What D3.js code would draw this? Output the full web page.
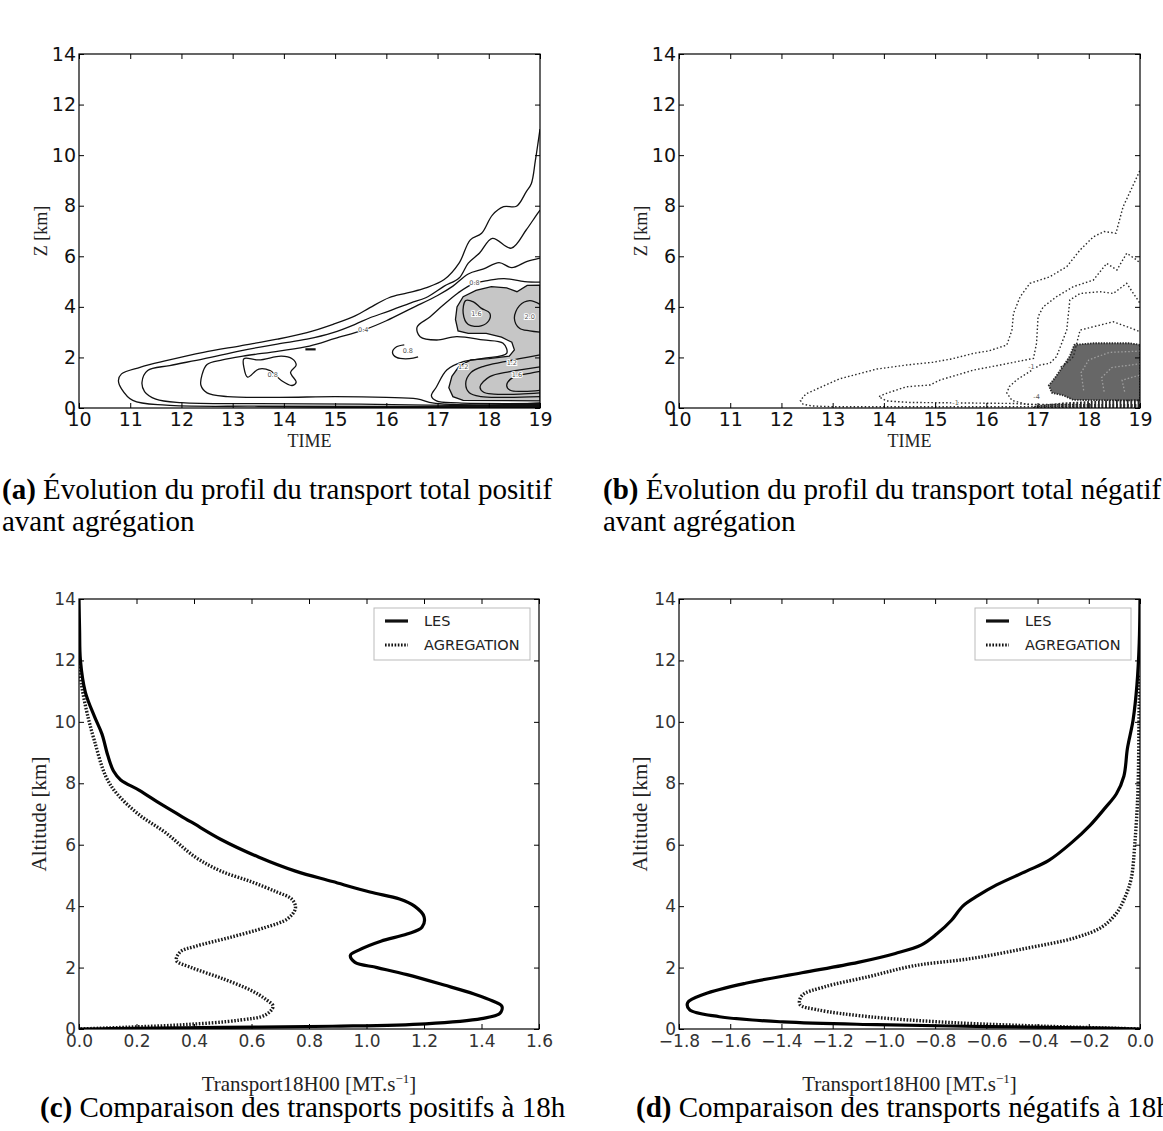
<!DOCTYPE html>
<html><head><meta charset="utf-8">
<script src="https://cdn.jsdelivr.net/npm/d3@7/dist/d3.min.js"></script>
<style>
html,body{margin:0;padding:0;background:#fff;}
svg{display:block;}
</style></head><body>
<svg id="fig" width="1163" height="1131" xmlns="http://www.w3.org/2000/svg"></svg>
<script>
// ======================= DATA =======================
const hourTicks = [10,11,12,13,14,15,16,17,18,19];
const kmTicks   = [0,2,4,6,8,10,12,14];
const posTicks  = [0,0.2,0.4,0.6,0.8,1.0,1.2,1.4,1.6];
const negTicks  = [-1.8,-1.6,-1.4,-1.2,-1.0,-0.8,-0.6,-0.4,-0.2,0.0];
const seriesNames = ["LES","AGREGATION"];

const captionA = ["(a)", " Évolution du profil du transport total positif", "avant agrégation"];
const captionB = ["(b)", " Évolution du profil du transport total négatif", "avant agrégation"];
const captionC = ["(c)", " Comparaison des transports positifs à 18h"];
const captionD = ["(d)", " Comparaison des transports négatifs à 18h"];

// ---- (a) positive transport contours: [time (h), Z (km)] ----
const posContour1 = [[19,0.05],[16,0.06],[13.5,0.07],[11.7,0.11],[11.05,0.3],[10.83,0.76],[10.77,1.09],[10.83,1.35],[11.19,1.61],[11.7,1.87],[12.43,2.2],[13.15,2.46],[13.87,2.72],[14.45,2.98],[14.96,3.31],[15.39,3.64],[15.68,3.97],[16.05,4.36],[16.41,4.55],[16.77,4.75],[17.13,5.08],[17.42,5.73],[17.64,6.65],[17.86,6.91],[18.07,7.63],[18.29,7.96],[18.54,7.98],[18.73,8.55],[18.83,8.87],[18.91,9.79],[19,11.03]];
const posContour2 = [[19,0.09],[16.8,0.11],[15.5,0.15],[13.5,0.17],[12.0,0.21],[11.5,0.35],[11.28,0.65],[11.23,1.02],[11.34,1.48],[11.77,1.68],[12.43,1.94],[13.15,2.26],[13.87,2.53],[14.45,2.72],[14.96,2.98],[15.39,3.31],[15.68,3.57],[16.05,3.83],[16.48,4.16],[16.77,4.36],[17.13,4.82],[17.42,5.14],[17.6,5.73],[17.82,6.13],[18.07,6.71],[18.44,6.32],[18.73,7.04],[18.91,7.57],[19,7.83]];
const posContour3 = [[19,0.12],[17.3,0.14],[16.9,0.2],[16.6,0.36],[16.0,0.42],[15.0,0.45],[13.9,0.42],[12.9,0.45],[12.5,0.6],[12.38,0.9],[12.4,1.3],[12.5,1.72],[12.8,1.9],[13.2,2.05],[13.9,2.25],[14.5,2.45],[15.0,2.75],[15.58,3.1],[16.0,3.45],[16.5,3.95],[17.0,4.45],[17.3,4.82],[17.6,5.3],[17.9,5.5],[18.2,5.75],[18.45,5.55],[18.75,5.8],[19,5.93]];
const posContour4 = [[19,0.18],[17.4,0.2],[16.98,0.28],[16.88,0.48],[16.98,0.84],[17.18,1.5],[17.5,1.83],[17.89,1.96],[18.35,2.16],[18.28,2.56],[17.89,2.69],[17.37,2.82],[16.98,2.69],[16.66,2.82],[16.6,3.2],[16.85,3.6],[17.1,4.05],[17.4,4.55],[17.7,4.92],[18.0,5.05],[18.3,5.12],[18.7,5.0],[19,4.98]];
const posFilled   = [[19,4.86],[18.75,4.85],[18.55,4.6],[18.35,4.75],[18.05,4.8],[17.75,4.65],[17.5,4.4],[17.38,4.0],[17.35,3.5],[17.4,3.05],[17.6,2.95],[17.95,2.95],[18.25,2.8],[18.45,2.6],[18.5,2.3],[18.4,2.05],[18.0,1.95],[17.65,1.9],[17.42,1.65],[17.28,1.25],[17.22,0.8],[17.3,0.45],[17.5,0.3],[19,0.28]];
const posIsland   = [[13.22,1.95],[13.51,1.9],[13.95,2.05],[14.16,1.95],[14.24,1.7],[14.13,1.41],[14.24,1.02],[14.16,0.89],[13.95,1.09],[13.73,1.48],[13.51,1.54],[13.29,1.22],[13.22,1.6]];
const posHook     = [[16.35,2.5],[16.2,2.42],[16.12,2.2],[16.2,2.0],[16.45,1.95],[16.62,2.02]];
const posDash     = [[14.42,2.32],[14.62,2.32]];
const posLoopA    = [[17.55,4.25],[17.5,3.75],[17.6,3.3],[17.85,3.25],[18.0,3.45],[18.02,3.75],[17.85,3.95],[17.7,4.2]];
const posLoopB    = [[19,4.1],[18.8,4.25],[18.6,4.05],[18.5,3.55],[18.6,3.15],[18.8,3.05],[19,3.0]];
const posArc1     = [[19,2.1],[18.6,1.95],[18.28,1.82],[17.9,1.65],[17.65,1.4],[17.55,0.97],[17.62,0.6],[17.85,0.45],[18.3,0.42],[19,0.45]];
const posArc2     = [[19,1.63],[18.41,1.44],[18.02,1.24],[17.83,0.84],[17.9,0.62],[18.1,0.55],[18.6,0.55],[19,0.6]];
const posArc3     = [[19,1.45],[18.8,1.37],[18.48,1.22],[18.35,0.9],[18.42,0.7],[18.7,0.66],[19,0.7]];
const posSurface  = [[12.5,0],[14.5,0.03],[16.0,0.05],[16.8,0.07],[17.5,0.1],[18.5,0.17],[19,0.23],[19,0]];
const posLabels   = [["0.4",15.55,3.08],["0.8",17.72,4.93],["0.8",16.42,2.24],["0.8",13.78,1.32],["1.6",17.76,3.72],["1.2",17.5,1.62],["1.2",18.45,1.78],["1.6",18.55,1.3],["2.0",18.8,3.6]];

// ---- (b) negative transport contours ----
const negContour1 = [[19,0.05],[13,0.05],[12.6,0.08],[12.42,0.15],[12.37,0.3],[12.48,0.56],[13.13,1.15],[13.86,1.54],[14.44,1.7],[14.96,1.81],[15.32,1.94],[15.75,2.16],[16.05,2.26],[16.4,2.49],[16.5,3.08],[16.53,3.74],[16.66,4.4],[16.85,4.93],[17.24,5.19],[17.57,5.59],[17.83,6.25],[18.09,6.77],[18.3,6.98],[18.53,6.91],[18.67,7.96],[18.82,8.61],[19,9.4]];
const negContour2 = [[19,0.1],[17.1,0.12],[16.5,0.18],[15.5,0.2],[14.5,0.22],[14.05,0.28],[13.9,0.45],[14.05,0.58],[14.44,0.84],[14.9,0.91],[15.1,1.11],[15.42,1.3],[15.75,1.5],[16.27,1.7],[16.59,1.83],[16.92,1.96],[16.98,2.56],[17.01,3.61],[17.11,4.0],[17.37,4.4],[17.7,4.8],[18.09,5.06],[18.35,5.72],[18.55,5.46],[18.74,6.12],[18.94,5.85],[19,5.72]];
const negContour3 = [[19,0.13],[16.8,0.14],[16.5,0.3],[16.4,0.6],[16.45,0.85],[16.59,1.11],[16.79,1.37],[17.05,1.7],[17.24,1.77],[17.37,2.03],[17.57,3.08],[17.63,4.27],[17.83,4.53],[18.22,4.6],[18.48,4.53],[18.74,4.93],[19,4.14]];
const negContour4 = [[17.45,1.62],[17.57,1.77],[17.7,2.03],[17.83,3.08],[18.22,3.28],[18.48,3.41],[18.74,3.22],[19,3.02]];
const negFilled   = [[19,2.5],[18.8,2.56],[18.09,2.56],[17.72,2.5],[17.63,2.05],[17.5,1.65],[17.31,1.11],[17.22,0.89],[17.28,0.6],[17.5,0.5],[17.7,0.32],[19,0.3]];
const negInner1   = [[17.9,0.7],[17.85,1.4],[18.0,1.9],[18.4,2.2],[19,2.25]];
const negInner2   = [[18.3,0.65],[18.25,1.2],[18.45,1.6],[19,1.75]];
const negInner3   = [[18.7,0.65],[18.65,1.1],[19,1.3]];
const negSurface  = [[16.9,0],[16.95,0.1],[17.5,0.22],[18.2,0.3],[19,0.35],[19,0]];
const negLabels   = [["-1",16.88,1.62],["-4",16.98,0.45],["-1",15.4,0.2]];

// ---- (c) profiles at 18h00, positive: [transport, altitude] ----
const posLES = [[0,14],[0.002,13],[0.005,12],[0.022,10.97],[0.054,10.17],[0.08,9.6],[0.1,8.91],[0.12,8.4],[0.145,8.11],[0.21,7.77],[0.287,7.31],[0.39,6.74],[0.494,6.17],[0.624,5.6],[0.753,5.14],[0.882,4.8],[1.012,4.46],[1.115,4.23],[1.167,4.0],[1.2,3.66],[1.193,3.31],[1.141,3.09],[1.05,2.86],[0.973,2.57],[0.944,2.4],[0.96,2.17],[1.037,2.0],[1.141,1.77],[1.27,1.43],[1.374,1.14],[1.439,0.91],[1.471,0.74],[1.464,0.51],[1.4,0.34],[1.206,0.17],[0.882,0.09],[0.494,0.05],[0.106,0.01],[0,0]];
const posAGG = [[0,12],[0.009,11.2],[0.028,10.29],[0.054,9.37],[0.093,8.23],[0.132,7.66],[0.21,6.97],[0.3,6.4],[0.404,5.6],[0.494,5.14],[0.598,4.8],[0.688,4.46],[0.74,4.23],[0.753,3.94],[0.727,3.6],[0.649,3.31],[0.52,2.97],[0.404,2.69],[0.352,2.51],[0.339,2.23],[0.391,2.0],[0.494,1.66],[0.598,1.26],[0.649,0.97],[0.675,0.74],[0.649,0.46],[0.559,0.29],[0.365,0.14],[0.171,0.06],[0,0]];

// ---- (d) profiles at 18h00, negative ----
const negLES = [[0,14],[-0.003,12.57],[-0.012,11.2],[-0.027,10.06],[-0.049,9.14],[-0.063,8.23],[-0.092,7.66],[-0.136,7.2],[-0.195,6.63],[-0.268,6.06],[-0.356,5.49],[-0.443,5.14],[-0.56,4.69],[-0.633,4.34],[-0.692,4.0],[-0.736,3.54],[-0.794,3.09],[-0.853,2.74],[-0.955,2.46],[-1.101,2.17],[-1.32,1.83],[-1.54,1.49],[-1.7,1.14],[-1.766,0.86],[-1.759,0.63],[-1.642,0.4],[-1.394,0.23],[-1.028,0.14],[-0.589,0.08],[-0.151,0.03],[0,0]];
const negAGG = [[0,11.5],[-0.003,10.63],[-0.008,7.77],[-0.02,6.06],[-0.034,4.91],[-0.056,4.34],[-0.092,3.77],[-0.151,3.31],[-0.253,2.97],[-0.443,2.63],[-0.663,2.29],[-0.882,2.06],[-1.057,1.71],[-1.233,1.37],[-1.32,1.09],[-1.328,0.8],[-1.262,0.63],[-1.057,0.4],[-0.736,0.21],[-0.37,0.09],[-0.078,0.02],[0,0]];

// ======================= DRAWING =======================
const svg = d3.select("#fig");
svg.append("rect").attr("width",1163).attr("height",1131).attr("fill","#fff");
const defs = svg.append("defs");
const hatch = defs.append("pattern").attr("id","hatch").attr("patternUnits","userSpaceOnUse")
  .attr("width",3.6).attr("height",12);
hatch.append("rect").attr("x",0).attr("y",0).attr("width",1.7).attr("height",12).attr("fill","#1c1c1c");

const SERIF = "'Liberation Serif','Times New Roman',serif";
const SANS  = "'DejaVu Sans',sans-serif";

function makePanel(id, box, xDom, yDom){
  const x = d3.scaleLinear().domain(xDom).range([box.x0, box.x1]);
  const y = d3.scaleLinear().domain(yDom).range([box.y1, box.y0]);
  defs.append("clipPath").attr("id","clip-"+id).append("rect")
    .attr("x",box.x0).attr("y",box.y0).attr("width",box.x1-box.x0).attr("height",box.y1-box.y0);
  const g = svg.append("g");
  const plot = g.append("g").attr("clip-path",`url(#clip-${id})`);
  const line = d3.line().x(d=>x(d[0])).y(d=>y(d[1]));
  return {id, box, x, y, g, plot, line};
}

function drawAxes(p, xt, yt, xfmt, yfmt, fs, col, padB){
  const {g, x, y, box} = p;
  const T = 5;
  const style = sel => {
    sel.select(".domain").remove();
    sel.selectAll(".tick line").attr("stroke","#000").attr("stroke-width",1);
    sel.selectAll("text").attr("font-family",SANS).attr("font-size",fs).attr("fill",col);
  };
  g.append("g").attr("transform",`translate(0,${box.y1})`)
    .call(d3.axisBottom(x).tickValues(xt).tickFormat(xfmt).tickSize(-T).tickPadding(padB)).call(style);
  g.append("g").attr("transform",`translate(0,${box.y0})`)
    .call(d3.axisTop(x).tickValues(xt).tickFormat("").tickSize(-T)).call(style);
  g.append("g").attr("transform",`translate(${box.x0},0)`)
    .call(d3.axisLeft(y).tickValues(yt).tickFormat(yfmt).tickSize(-T).tickPadding(3)).call(style);
  g.append("g").attr("transform",`translate(${box.x1},0)`)
    .call(d3.axisRight(y).tickValues(yt).tickFormat("").tickSize(-T)).call(style);
  g.append("rect").attr("x",box.x0).attr("y",box.y0)
    .attr("width",box.x1-box.x0).attr("height",box.y1-box.y0)
    .attr("fill","none").attr("stroke","#000").attr("stroke-width",1.2);
}

function axisTitles(p, xLabel, yLabel, fs, xOff, yX){
  const {g, box} = p;
  const xt = g.append("text").attr("x",(box.x0+box.x1)/2).attr("y",box.y1+xOff)
    .attr("text-anchor","middle").attr("font-family",SERIF).attr("font-size",fs).attr("fill","#222");
  if (Array.isArray(xLabel)) {
    xt.append("tspan").text(xLabel[0]);
    xt.append("tspan").attr("font-size",fs*0.62).attr("dy",-fs*0.4).text(xLabel[1]);
    xt.append("tspan").attr("dy",fs*0.4).text(xLabel[2]);
  } else xt.text(xLabel);
  g.append("text").attr("transform",`translate(${yX},${(box.y0+box.y1)/2}) rotate(-90)`)
    .attr("text-anchor","middle").attr("dominant-baseline","central")
    .attr("font-family",SERIF).attr("font-size",fs).attr("fill","#222").text(yLabel);
}

function caption(lines, x, y, lh){
  const t = svg.append("text").attr("x",x).attr("y",y)
    .attr("font-family",SERIF).attr("font-size",29).attr("fill","#000");
  t.append("tspan").attr("font-weight","bold").text(lines[0]);
  t.append("tspan").text(lines[1]);
  if (lines[2]) svg.append("text").attr("x",x).attr("y",y+lh)
    .attr("font-family",SERIF).attr("font-size",29).attr("fill","#000").text(lines[2]);
}

function contourLabels(p, labels){
  p.plot.selectAll(null).data(labels).join("text")
    .attr("x",d=>p.x(d[1])).attr("y",d=>p.y(d[2]))
    .attr("text-anchor","middle").attr("dominant-baseline","central")
    .attr("font-family",SANS).attr("font-size",6.5).attr("fill","#555")
    .attr("stroke","#fff").attr("stroke-width",2).attr("paint-order","stroke")
    .text(d=>d[0]);
}

// ---------- panel (a) ----------
const pa = makePanel("a", {x0:79,x1:540,y0:54,y1:408}, [10,19], [0,14]);
{
  const smooth = d3.line().x(d=>pa.x(d[0])).y(d=>pa.y(d[1])).curve(d3.curveCatmullRom.alpha(0.5));
  const closed = d3.line().x(d=>pa.x(d[0])).y(d=>pa.y(d[1])).curve(d3.curveCatmullRomClosed.alpha(0.5));
  const poly = d => pa.line(d) + "Z";
  pa.plot.append("path").attr("d",poly(posFilled)).attr("fill","#c6c6c6").attr("stroke","#111").attr("stroke-width",1.3);
  pa.plot.append("path").attr("d",poly(posSurface)).attr("fill","#141414");
  [posContour1,posContour2,posContour3,posContour4,posHook,posLoopB,posArc1,posArc2,posArc3].forEach(c=>{
    pa.plot.append("path").attr("d",smooth(c)).attr("fill","none").attr("stroke","#111").attr("stroke-width",1.3);
  });
  [posIsland,posLoopA].forEach(c=>{
    pa.plot.append("path").attr("d",closed(c)).attr("fill","none").attr("stroke","#111").attr("stroke-width",1.3);
  });
  pa.plot.append("path").attr("d",pa.line(posDash)).attr("stroke","#111").attr("stroke-width",2.2);
  contourLabels(pa, posLabels);
}
drawAxes(pa, hourTicks, kmTicks, d3.format("d"), d3.format("d"), 19, "#111", 5);
axisTitles(pa, "TIME", "Z [km]", 18, 39, 41);

// ---------- panel (b) ----------
const pb = makePanel("b", {x0:679,x1:1140,y0:54,y1:408}, [10,19], [0,14]);
{
  const poly = d => pb.line(d) + "Z";
  pb.plot.append("path").attr("d",poly(negFilled)).attr("fill","#676767")
    .attr("stroke","#2a2a2a").attr("stroke-width",1.8).attr("stroke-dasharray","1.5,1.2");
  [negInner1,negInner2,negInner3].forEach(c=>{
    pb.plot.append("path").attr("d",pb.line(c)).attr("fill","none").attr("stroke","#a0a0a0")
      .attr("stroke-width",1.3).attr("stroke-dasharray","1.5,2");
  });
  pb.plot.append("path").attr("d",poly(negSurface)).attr("fill","url(#hatch)");
  [negContour1,negContour2,negContour3,negContour4].forEach(c=>{
    pb.plot.append("path").attr("d",pb.line(c)).attr("fill","none").attr("stroke","#2a2a2a")
      .attr("stroke-width",1.4).attr("stroke-dasharray","1.5,2.2");
  });
  contourLabels(pb, negLabels);
}
drawAxes(pb, hourTicks, kmTicks, d3.format("d"), d3.format("d"), 19, "#111", 5);
axisTitles(pb, "TIME", "Z [km]", 18, 39, 641);

// ---------- profile panels ----------
function legend(p){
  const bw = 156, bh = 52;
  const lx = p.box.x1 - 9 - bw, ly = p.box.y0 + 9;
  const lg = p.g.append("g");
  lg.append("rect").attr("x",lx).attr("y",ly).attr("width",bw).attr("height",bh)
    .attr("fill","#fff").attr("stroke","#bbb").attr("stroke-width",1);
  seriesNames.forEach((name,i)=>{
    const yy = ly + 13 + i*24;
    lg.append("line").attr("x1",lx+11).attr("x2",lx+34).attr("y1",yy).attr("y2",yy)
      .attr("stroke","#111").attr("stroke-width",3.2)
      .attr("stroke-dasharray", i===0 ? null : "1.6,1.6");
    lg.append("text").attr("x",lx+50).attr("y",yy).attr("dominant-baseline","central")
      .attr("font-family",SANS).attr("font-size",14.5).attr("fill","#222").text(name);
  });
}

function profilePanel(id, box, xDom, xt, les, agg, yX){
  const p = makePanel(id, box, xDom, [0,14]);
  const curve = d3.line().x(d=>p.x(d[0])).y(d=>p.y(d[1])).curve(d3.curveCatmullRom.alpha(0.5));
  p.plot.append("path").attr("d",curve(agg)).attr("fill","none").attr("stroke","#1a1a1a")
    .attr("stroke-width",3.4).attr("stroke-dasharray","1.6,1.6");
  p.plot.append("path").attr("d",curve(les)).attr("fill","none").attr("stroke","#000")
    .attr("stroke-width",3.2).attr("stroke-linejoin","round");
  drawAxes(p, xt, kmTicks, d3.format(".1f"), d3.format("d"), 17, "#333", 6);
  axisTitles(p, ["Transport18H00 [MT.s", "−1", "]"], "Altitude [km]", 21, 62, yX);
  legend(p);
  return p;
}
profilePanel("c", {x0:79,x1:539,y0:599,y1:1029}, [0,1.6], posTicks, posLES, posAGG, 39);
profilePanel("d", {x0:679,x1:1140,y0:599,y1:1029}, [-1.8,0], negTicks, negLES, negAGG, 640);

// ---------- captions ----------
caption(captionA, 2, 499, 32);
caption(captionB, 603, 499, 32);
caption(captionC, 40, 1117);
caption(captionD, 636, 1117);
</script>
</body></html>
